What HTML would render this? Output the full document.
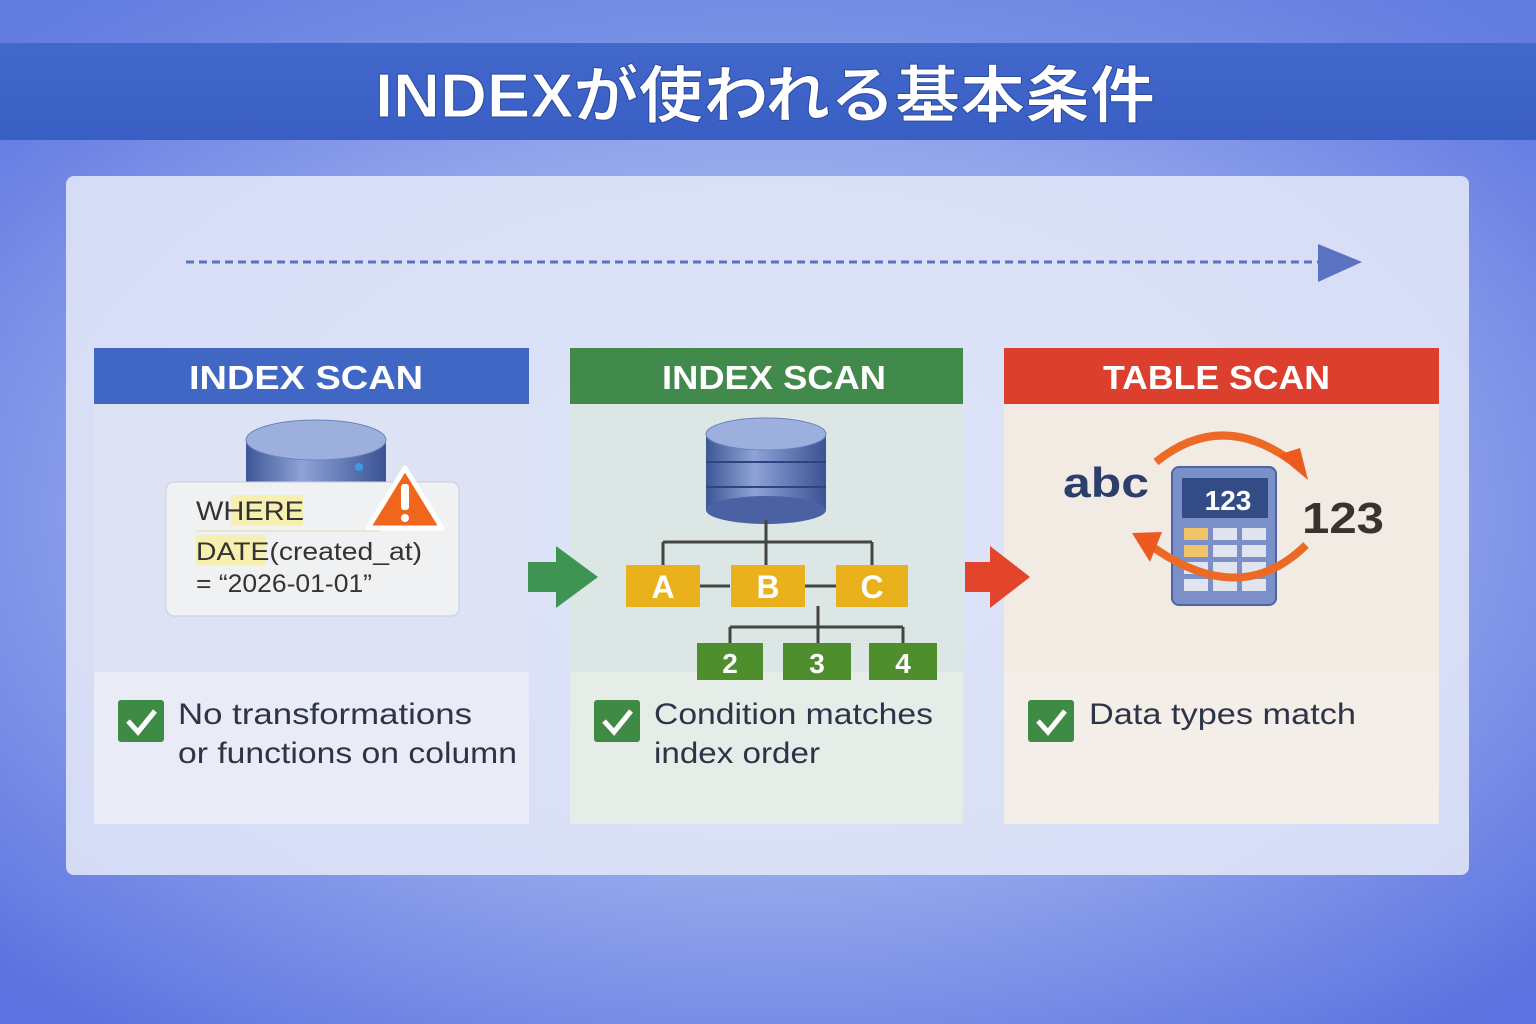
<!DOCTYPE html>
<html><head><meta charset="utf-8"><style>
html,body{margin:0;padding:0;width:1536px;height:1024px;overflow:hidden}
body{background:radial-gradient(ellipse 70% 65% at 50% 50%,#bcc8f3 0%,#93a7ec 55%,#5b72e0 100%)}
svg text{font-family:"Liberation Sans","Noto Sans CJK JP",sans-serif}
</style></head><body>
<svg width="1536" height="1024" viewBox="0 0 1536 1024" xmlns="http://www.w3.org/2000/svg">
<defs>
<linearGradient id="cyl" x1="0" x2="1"><stop offset="0" stop-color="#3d5696"/><stop offset=".4" stop-color="#8ea3d6"/><stop offset="1" stop-color="#3b5294"/></linearGradient>
<linearGradient id="band" x1="0" x2="0" y1="0" y2="1"><stop offset="0" stop-color="#4268cc"/><stop offset="1" stop-color="#3a5fc4"/></linearGradient>
</defs>
<rect x="0" y="0" width="1536" height="43" fill="#6e8de0" opacity=".4"/>
<rect x="0" y="43" width="1536" height="97" fill="url(#band)"/>
<text x="375" y="117" textLength="780" lengthAdjust="spacingAndGlyphs" font-size="62" font-weight="bold" fill="#fff" stroke="#2c4aa0" stroke-width="1">INDEXが使われる基本条件</text>
<rect x="66" y="176" width="1403" height="699" rx="8" fill="#e3e7f7" opacity=".88"/>
<line x1="186" y1="262" x2="1322" y2="262" stroke="#5a72c2" stroke-width="3" stroke-dasharray="8,5"/>
<polygon points="1318,244 1362,262 1318,282" fill="#5a72c2"/>

<!-- card 1 -->
<rect x="94" y="348" width="435" height="476" rx="6" fill="#dde3f5"/>
<rect x="94" y="672" width="435" height="152" fill="#e9ecf7"/>
<rect x="94" y="348" width="435" height="56" fill="#4067c4"/>
<text x="189" y="389" textLength="234" lengthAdjust="spacingAndGlyphs" font-size="33" font-weight="bold" fill="#fff">INDEX SCAN</text>
<rect x="246" y="440" width="140" height="45" fill="url(#cyl)"/>
<ellipse cx="316" cy="440" rx="70" ry="20" fill="#9db0dd" stroke="#6c82bd"/>
<circle cx="359" cy="467" r="4" fill="#3b9be8"/>
<rect x="166" y="482" width="293" height="134" rx="8" fill="#f0f1f3" stroke="#c8cede"/>
<rect x="231" y="495" width="72" height="30" fill="#f6efb0"/>
<rect x="196" y="535" width="70" height="30" fill="#f6efb0"/>
<line x1="196" y1="531" x2="380" y2="531" stroke="#e2d9a8"/>
<text x="196" y="520" textLength="108" lengthAdjust="spacingAndGlyphs" font-size="27" fill="#333">WHERE</text>
<text x="196" y="560" textLength="226" lengthAdjust="spacingAndGlyphs" font-size="25" fill="#333">DATE(created_at)</text>
<text x="196" y="592" textLength="176" lengthAdjust="spacingAndGlyphs" font-size="25" fill="#333">= “2026-01-01”</text>
<polygon points="405,468 442,528 368,528" fill="#f0661c" stroke="#fff" stroke-width="5" stroke-linejoin="round"/>
<rect x="401" y="484" width="8" height="26" rx="3" fill="#fff"/><circle cx="405" cy="518" r="4" fill="#fff"/>
<rect x="118" y="700" width="46" height="42" rx="3" fill="#3f8a44"/>
<polyline points="128,721 138,732 155,711" fill="none" stroke="#fff" stroke-width="5"/>
<text x="178" y="724" textLength="294" lengthAdjust="spacingAndGlyphs" font-size="30" fill="#2e3447">No transformations</text>
<text x="178" y="763" textLength="339" lengthAdjust="spacingAndGlyphs" font-size="30" fill="#2e3447">or functions on column</text>

<!-- card 2 -->
<rect x="570" y="348" width="393" height="476" rx="6" fill="#dbe6e5"/>
<rect x="570" y="672" width="393" height="152" fill="#e6ede9"/>
<rect x="570" y="348" width="393" height="56" fill="#418a4b"/>
<text x="662" y="389" textLength="224" lengthAdjust="spacingAndGlyphs" font-size="33" font-weight="bold" fill="#fff">INDEX SCAN</text>
<rect x="706" y="434" width="120" height="76" fill="url(#cyl)"/>
<line x1="706" y1="462" x2="826" y2="462" stroke="#2e447e" stroke-width="2"/>
<line x1="706" y1="487" x2="826" y2="487" stroke="#2e447e" stroke-width="2"/>
<ellipse cx="766" cy="510" rx="60" ry="14" fill="#4a62a4"/>
<ellipse cx="766" cy="434" rx="60" ry="16" fill="#9db0dd" stroke="#6c82bd"/>
<g stroke="#444" stroke-width="3" fill="none">
<line x1="766" y1="520" x2="766" y2="542"/><line x1="663" y1="542" x2="872" y2="542"/>
<line x1="663" y1="542" x2="663" y2="565"/><line x1="766" y1="542" x2="766" y2="565"/><line x1="872" y1="542" x2="872" y2="565"/>
<line x1="700" y1="586" x2="730" y2="586"/><line x1="805" y1="586" x2="836" y2="586"/>
<line x1="818" y1="606" x2="818" y2="627"/><line x1="730" y1="627" x2="903" y2="627"/>
<line x1="730" y1="627" x2="730" y2="643"/><line x1="818" y1="627" x2="818" y2="643"/><line x1="903" y1="627" x2="903" y2="643"/>
</g>
<g font-size="32" font-weight="bold" fill="#fff" text-anchor="middle">
<rect x="626" y="565" width="74" height="42" fill="#e9b21c"/><text x="663" y="598">A</text>
<rect x="731" y="565" width="74" height="42" fill="#e9b21c"/><text x="768" y="598">B</text>
<rect x="836" y="565" width="72" height="42" fill="#e9b21c"/><text x="872" y="598">C</text>
<rect x="697" y="643" width="66" height="37" fill="#4f8e2c"/><text x="730" y="673" font-size="28">2</text>
<rect x="783" y="643" width="68" height="37" fill="#4f8e2c"/><text x="817" y="673" font-size="28">3</text>
<rect x="869" y="643" width="68" height="37" fill="#4f8e2c"/><text x="903" y="673" font-size="28">4</text>
</g>
<rect x="594" y="700" width="46" height="42" rx="3" fill="#3f8a44"/>
<polyline points="604,721 614,732 631,711" fill="none" stroke="#fff" stroke-width="5"/>
<text x="654" y="724" textLength="279" lengthAdjust="spacingAndGlyphs" font-size="30" fill="#2e3447">Condition matches</text>
<text x="654" y="763" textLength="166" lengthAdjust="spacingAndGlyphs" font-size="30" fill="#2e3447">index order</text>

<!-- card 3 -->
<rect x="1004" y="348" width="435" height="476" rx="6" fill="#f2ebe3"/>
<rect x="1004" y="672" width="435" height="152" fill="#f4eee8"/>
<rect x="1004" y="348" width="435" height="56" fill="#dd3f2e"/>
<text x="1103" y="389" textLength="227" lengthAdjust="spacingAndGlyphs" font-size="33" font-weight="bold" fill="#fff">TABLE SCAN</text>
<rect x="1172" y="467" width="104" height="138" rx="7" fill="#7b90c8" stroke="#4e64a2" stroke-width="2"/>
<rect x="1182" y="478" width="86" height="40" fill="#344c86"/>
<text x="1228" y="510" text-anchor="middle" font-size="28" font-weight="bold" fill="#fff">123</text>
<g fill="#dfe4ef">
<rect x="1184" y="528" width="24" height="12" fill="#f1c36a"/><rect x="1213" y="528" width="24" height="12"/><rect x="1242" y="528" width="24" height="12"/>
<rect x="1184" y="545" width="24" height="12" fill="#f1c36a"/><rect x="1213" y="545" width="24" height="12"/><rect x="1242" y="545" width="24" height="12"/>
<rect x="1184" y="562" width="24" height="12"/><rect x="1213" y="562" width="24" height="12"/><rect x="1242" y="562" width="24" height="12"/>
<rect x="1184" y="579" width="24" height="12"/><rect x="1213" y="579" width="24" height="12"/><rect x="1242" y="579" width="24" height="12"/>
</g>
<path d="M1156,462 Q1220,410 1290,460" fill="none" stroke="#ec6a26" stroke-width="8"/>
<polygon points="1278,455 1308,480 1300,448" fill="#ec5a22"/>
<path d="M1306,545 Q1240,610 1150,545" fill="none" stroke="#ec6a26" stroke-width="8"/>
<polygon points="1162,532 1132,533 1150,562" fill="#ec5a22"/>
<text x="1063" y="497" textLength="86" lengthAdjust="spacingAndGlyphs" font-size="42" font-weight="bold" fill="#2c3f6a">abc</text>
<text x="1302" y="533" textLength="82" lengthAdjust="spacingAndGlyphs" font-size="44" font-weight="bold" fill="#3a322c">123</text>
<rect x="1028" y="700" width="46" height="42" rx="3" fill="#3f8a44"/>
<polyline points="1038,721 1048,732 1065,711" fill="none" stroke="#fff" stroke-width="5"/>
<text x="1089" y="724" textLength="267" lengthAdjust="spacingAndGlyphs" font-size="30" fill="#2e3447">Data types match</text>

<!-- arrows between cards -->
<polygon points="528,562 556,562 556,546 598,577 556,608 556,592 528,592" fill="#3f9454"/>
<polygon points="965,562 990,562 990,546 1030,577 990,608 990,592 965,592" fill="#e2452c"/>
</svg>
</body></html>
